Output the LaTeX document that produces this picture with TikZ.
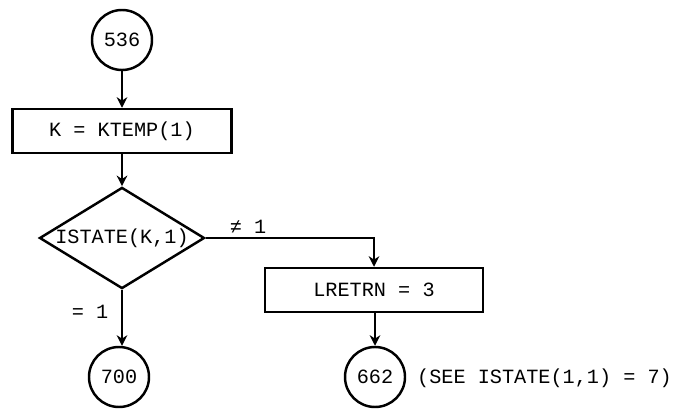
\documentclass[tikz,border=0pt]{standalone}
\usepackage{fontspec}
\setmonofont{Liberation Mono}
\usetikzlibrary{arrows.meta,shapes.geometric,positioning}

\tikzset{
  flow/.style={line width=1.4pt},
  conn/.style={circle, draw, line width=1.4pt, minimum size=1.2cm, inner sep=0pt},
  procbox/.style={rectangle, draw, line width=1.4pt, minimum height=0.88cm, inner sep=2pt},
  decide/.style={diamond, draw, line width=1.4pt, aspect=1.62, inner sep=0pt, minimum width=3.3cm},
  arr/.style={-{Stealth[length=6pt,width=6pt]}, flow}
}

\begin{document}
\begin{tikzpicture}[every node/.style={font=\ttfamily\fontsize{11.5}{13}\selectfont}]
  \useasboundingbox (0,0) rectangle (13.58,8.2);

  %% Left column
  \node[conn] (c536) at (2.44,7.4) {536};
  \node[procbox, minimum width=4.38cm] (kset) at (2.44,5.58) {K = KTEMP(1)};
  \node[decide] (test) at (2.44,3.44) {ISTATE(K,1)};
  \node[conn] (c700) at (2.38,0.66) {700};

  %% Right column
  \node[procbox, minimum width=4.36cm] (lret) at (7.48,2.4) {LRETRN = 3};
  \node[conn] (c662) at (7.5,0.66) {662};
  \node[anchor=west] (note) at (8.22,0.64) {(SEE ISTATE(1,1) = 7)};

  % Connectors
  \draw[arr] (c536) -- (kset);
  \draw[arr] (kset) -- (test);
  \draw[arr] (test.south) -- (test.south |- c700.north);
  \node (eq) at (1.8,1.96) {= 1};

  \coordinate (bend) at (lret.north |- test.east);
  \draw[arr] (test.east) -- (bend) -- (lret.north);
  \node (ne) at (4.96,3.66) {≠ 1};

  \draw[arr] (lret.south -| c662) -- (c662);
\end{tikzpicture}
\end{document}
